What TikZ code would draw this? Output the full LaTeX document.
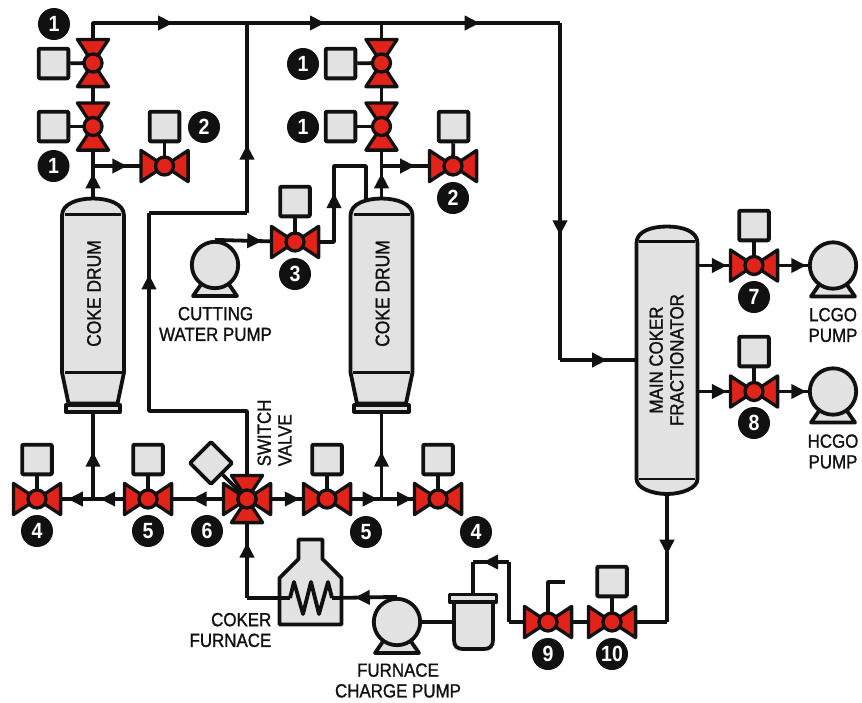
\documentclass[tikz,border=0pt]{standalone}
\usepackage{fontspec}
\setmainfont[FakeStretch=0.89]{Liberation Sans}
\newfontfamily\labelfont[FakeStretch=0.89,FakeBold=1.2]{Liberation Sans}
\usetikzlibrary{arrows.meta,decorations.markings}

\definecolor{valvered}{HTML}{E2231A}
\definecolor{shellgray}{HTML}{E2E2E2}
\definecolor{inkblack}{HTML}{111111}

\tikzset{
    pipe/.style={draw=inkblack, line width=3.8pt, line join=round},
    flow/.style={postaction={decorate}, decoration={markings,
        mark=at position #1 with {\arrow{Triangle[length=15pt,width=14pt,inkblack]}}}},
    shell/.style={draw=inkblack, fill=shellgray, line width=3.8pt, line join=round},
    thinline/.style={draw=inkblack, line width=2.2pt},
    redpart/.style={draw=inkblack, fill=valvered, line width=3.3pt, line join=round},
    actuator/.style={shell, rectangle, rounded corners=1pt, minimum size=29.7pt, inner sep=0pt},
    badge/.style={circle, fill=inkblack, text=white, minimum size=32pt, inner sep=0pt,
        font=\fontsize{22}{22}\selectfont\bfseries},
    pumpbody/.style={shell, circle, minimum size=46.4pt, inner sep=0pt},
    caption/.style={text=inkblack, inner sep=0pt, align=center, font=\labelfont\fontsize{19}{20.7}\selectfont},
    drumtext/.style={text=inkblack, inner sep=0pt, rotate=90, font=\labelfont\fontsize{19.6}{20}\selectfont},
    valve/.pic={
        \path[redpart] (-23.6,-15.6) -- (-23.6,15.6) -- (0,0) -- cycle;
        \path[redpart] (23.6,-15.6) -- (23.6,15.6) -- (0,0) -- cycle;
        \path[redpart] (0,0) circle[radius=9];
    },
    pumpbase/.pic={
        \path[shell] (-22,31) -- (22,31) -- (13,18) -- (-13,18) -- cycle;
    },
    cokedrum/.pic={
        \path[shell] (-31,17) .. controls (-31,5) and (-15,0) .. (0,0)
            .. controls (15,0) and (31,5) .. (31,17) -- (31,174) -- (24.5,205)
            -- (-24.5,205) -- (-31,174) -- cycle;
        \path[thinline] (-28,16) -- (28,16);
        \path[thinline] (-28.5,174) -- (28.5,174);
        \path[shell] (-27.3,206.7) rectangle (27.3,213.4);
    }
}

\begin{document}
\begin{tikzpicture}[x=1pt, y=-1pt]
    \useasboundingbox (0,0) rectangle (862,702);

    % valve centres
    \coordinate (vdrumAone) at (93,63);
    \coordinate (vdrumAtwo) at (93,126.5);
    \coordinate (vdrumAout) at (164.5,166);
    \coordinate (vdrumBone) at (381.5,63);
    \coordinate (vdrumBtwo) at (381.5,126.5);
    \coordinate (vdrumBout) at (453,166);
    \coordinate (vcutting) at (295,242);
    \coordinate (vbottomAo) at (37,499);
    \coordinate (vbottomAi) at (148,499);
    \coordinate (vswitch) at (247,499);
    \coordinate (vbottomBi) at (327,499);
    \coordinate (vbottomBo) at (438,499);
    \coordinate (vlcgo) at (754,265.5);
    \coordinate (vhcgo) at (754,391.5);
    \coordinate (vnine) at (548,622);
    \coordinate (vten) at (612,622);

    % pipe corners and tees
    \coordinate (topA) at (93,23);
    \coordinate (topT) at (247,23);
    \coordinate (topB) at (381.5,23);
    \coordinate (topC) at (560,23);
    \coordinate (fracin) at (560,360);
    \coordinate (fracend) at (636,360);
    \coordinate (drumAtop) at (93,198);
    \coordinate (drumAtee) at (93,166);
    \coordinate (drumAbot) at (93,413);
    \coordinate (drumArow) at (93,499);
    \coordinate (drumBtop) at (381.5,198);
    \coordinate (drumBtee) at (381.5,166);
    \coordinate (drumBbot) at (381.5,413);
    \coordinate (drumBrow) at (381.5,499);
    \coordinate (fracout) at (667,495);
    \coordinate (fraccorner) at (667,622);
    \coordinate (vesselin) at (473,594);
    \coordinate (vesselside) at (454,622);
    \coordinate (coilright) at (332,598);
    \coordinate (coilleft) at (290,598);
    \coordinate (furnaceleft) at (247,598);

    % coke drums and fractionator
    \pic at (93,198.5) {cokedrum};
    \pic at (381.5,198.5) {cokedrum};
    \path[shell] (636.5,243) .. controls (636.5,231) and (652,226.5) .. (667,226.5)
        .. controls (682,226.5) and (697.5,231) .. (697.5,243) -- (697.5,479)
        .. controls (697.5,488) and (682,494) .. (667,494)
        .. controls (652,494) and (636.5,488) .. (636.5,479) -- cycle;
    \path[thinline] (639,241.5) -- (695,241.5);
    \path[thinline] (639,479) -- (695,479);
    \node[drumtext] (textdrumA) at (94,293.5) {COKE DRUM};
    \node[drumtext] (textdrumB) at (382.5,293.5) {COKE DRUM};
    \node[caption, rotate=90] (textfrac) at (666.5,360) {MAIN COKER\\FRACTIONATOR};

    % furnace and feed vessel
    \path[shell] (279.5,624.5) -- (341.5,624.5) -- (341.5,578) -- (322.5,559) -- (322.5,539.5)
        -- (298.5,539.5) -- (298.5,559) -- (279.5,578) -- cycle;
    \path[shell] (454,602) -- (454,640) .. controls (454,646) and (457,649) .. (463,649)
        -- (484,649) .. controls (490,649) and (493,646) .. (493,640) -- (493,602) -- cycle;
    \path[shell] (449.5,594.5) rectangle (496.5,602);

    % pumps
    \pic at (215,265) {pumpbase};
    \pic at (833,265.5) {pumpbase};
    \pic at (833,391.5) {pumpbase};
    \pic at (397,622) {pumpbase};
    \node[pumpbody] (pumpcut) at (215,265) {};
    \node[pumpbody] (pumplcgo) at (833,265.5) {};
    \node[pumpbody] (pumphcgo) at (833,391.5) {};
    \node[pumpbody] (pumpfeed) at (397,622) {};

    % actuators
    \node[actuator] (boxdrumAone) at (53.5,63.5) {};
    \node[actuator] (boxdrumAtwo) at (53.5,126.5) {};
    \node[actuator] (boxdrumAout) at (164.5,126.5) {};
    \node[actuator] (boxdrumBone) at (340.5,63.5) {};
    \node[actuator] (boxdrumBtwo) at (340.5,126.5) {};
    \node[actuator] (boxdrumBout) at (453.5,126.5) {};
    \node[actuator] (boxcutting) at (295,201.5) {};
    \node[actuator] (boxbottomAo) at (37,459.5) {};
    \node[actuator] (boxbottomAi) at (148,459.5) {};
    \node[actuator, rotate=45] (boxswitch) at (211,463) {};
    \node[actuator] (boxbottomBi) at (327,459.5) {};
    \node[actuator] (boxbottomBo) at (438,459.5) {};
    \node[actuator] (boxlcgo) at (754,225.5) {};
    \node[actuator] (boxhcgo) at (754,351.5) {};
    \node[actuator] (boxten) at (612,581.5) {};

    % actuator stems
    \draw[pipe] (vdrumAone) -- (boxdrumAone);
    \draw[pipe] (vdrumAtwo) -- (boxdrumAtwo);
    \draw[pipe] (vdrumAout) -- (boxdrumAout);
    \draw[pipe] (vdrumBone) -- (boxdrumBone);
    \draw[pipe] (vdrumBtwo) -- (boxdrumBtwo);
    \draw[pipe] (vdrumBout) -- (boxdrumBout);
    \draw[pipe] (vcutting) -- (boxcutting);
    \draw[pipe] (vbottomAo) -- (boxbottomAo);
    \draw[pipe] (vbottomAi) -- (boxbottomAi);
    \draw[pipe] (vswitch) -- (boxswitch);
    \draw[pipe] (vbottomBi) -- (boxbottomBi);
    \draw[pipe] (vbottomBo) -- (boxbottomBo);
    \draw[pipe] (vlcgo) -- (boxlcgo);
    \draw[pipe] (vhcgo) -- (boxhcgo);
    \draw[pipe] (vten) -- (boxten);
    \draw[pipe] (vnine) -- (548,582) -- (565,582);

    % overhead lines
    \draw[pipe] (drumAtee) -- (vdrumAtwo) -- (vdrumAone) -- (topA) -- (topT);
    \draw[pipe, flow=.52] (topA) -- (topT);
    \draw[pipe, flow=.58] (topT) -- (topB);
    \draw[pipe, flow=.55] (topB) -- (topC);
    \draw[pipe, flow=.63] (topC) -- (fracin);
    \draw[pipe, flow=.62] (fracin) -- (fracend);
    \draw[pipe] (drumBtee) -- (vdrumBtwo) -- (vdrumBone) -- (topB);
    \draw[pipe, flow=.77] (drumAtop) -- (drumAtee);
    \draw[pipe, flow=.77] (drumBtop) -- (drumBtee);
    \draw[pipe, flow=.48] (drumAtee) -- (vdrumAout);
    \draw[pipe, flow=.47] (drumBtee) -- (vdrumBout);

    % cutting water line
    \draw[pipe, flow=.59] (pumpcut.north) -- (vcutting);
    \draw[pipe, flow=.486] (vcutting) -- (334,242) -- (334,166) -- (366,166) -- (366,200);

    % switch valve lines
    \draw[pipe] (vswitch) -- (247,411) -- (149,411) -- (149,275);
    \draw[pipe, flow=.69] (149,411) -- (149,213);
    \draw[pipe] (149,213) -- (247,213);
    \draw[pipe, flow=.36] (247,213) -- (topT);
    \draw[pipe, flow=.56] (vswitch) -- (vbottomAi);
    \draw[pipe, flow=.87] (vbottomAi) -- (drumArow);
    \draw[pipe, flow=.45] (drumArow) -- (vbottomAo);
    \draw[pipe, flow=.55] (drumArow) -- (drumAbot);
    \draw[pipe, flow=.66] (vswitch) -- (vbottomBi);
    \draw[pipe, flow=.93] (vbottomBi) -- (drumBrow);
    \draw[pipe, flow=.54] (drumBrow) -- (vbottomBo);
    \draw[pipe, flow=.55] (drumBrow) -- (drumBbot);

    % product lines
    \draw[pipe, flow=.52] (697.5,265.5) -- (vlcgo);
    \draw[pipe, flow=.97] (vlcgo) -- (pumplcgo.west);
    \draw[pipe, flow=.52] (697.5,391.5) -- (vhcgo);
    \draw[pipe, flow=.97] (vhcgo) -- (pumphcgo.west);

    % bottoms and furnace lines
    \draw[pipe, flow=.47] (fracout) -- (fraccorner);
    \draw[pipe] (fraccorner) -- (vten) -- (vnine) -- (509,622);
    \draw[pipe] (509,622) -- (509,562);
    \draw[pipe, flow=.72] (509,562) -- (473,562);
    \draw[pipe] (473,562) -- (vesselin);
    \draw[pipe] (vesselside) -- (pumpfeed.east);
    \draw[pipe, flow=.65] (pumpfeed.north) -- (coilright);
    \draw[pipe] (coilright) -- (328,582) -- (319,614) -- (311,582) -- (303,614) -- (294,582) -- (coilleft);
    \draw[pipe] (coilleft) -- (furnaceleft);
    \draw[pipe, flow=.56] (furnaceleft) -- (vswitch);

    % valves
    \pic[rotate=90] at (vdrumAone) {valve};
    \pic[rotate=90] at (vdrumAtwo) {valve};
    \pic at (vdrumAout) {valve};
    \pic[rotate=90] at (vdrumBone) {valve};
    \pic[rotate=90] at (vdrumBtwo) {valve};
    \pic at (vdrumBout) {valve};
    \pic at (vcutting) {valve};
    \pic at (vbottomAo) {valve};
    \pic at (vbottomAi) {valve};
    \pic at (vswitch) {valve};
    \pic[rotate=90] at (vswitch) {valve};
    \pic at (vbottomBi) {valve};
    \pic at (vbottomBo) {valve};
    \pic at (vlcgo) {valve};
    \pic at (vhcgo) {valve};
    \pic at (vnine) {valve};
    \pic at (vten) {valve};

    % numbered badges
    \node[badge] (badgeAa) at (54,24) {1};
    \node[badge] (badgeAb) at (53.5,166) {1};
    \node[badge] (badgeAc) at (204,127) {2};
    \node[badge] (badgeBa) at (303,64) {1};
    \node[badge] (badgeBb) at (303,127) {1};
    \node[badge] (badgeBc) at (453,198) {2};
    \node[badge] (badgecut) at (295,274) {3};
    \node[badge] (badgeAo) at (37,531) {4};
    \node[badge] (badgeAi) at (148,531) {5};
    \node[badge] (badgesw) at (207,531) {6};
    \node[badge] (badgeBi) at (366,532) {5};
    \node[badge] (badgeBo) at (476,532) {4};
    \node[badge] (badgelcgo) at (754,297) {7};
    \node[badge] (badgehcgo) at (754,423) {8};
    \node[badge] (badgenine) at (548,654) {9};
    \node[badge] (badgeten) at (612,654) {10};

    % captions
    \node[caption] (textcut) at (215.5,324) {CUTTING\\WATER PUMP};
    \node[caption] (textlcgo) at (833,325) {LCGO\\PUMP};
    \node[caption] (texthcgo) at (833,451.5) {HCGO\\PUMP};
    \node[caption] (textfeed) at (398,680.5) {FURNACE\\CHARGE PUMP};
    \node[caption, align=right, anchor=east] (textfurn) at (271.5,630) {COKER\\FURNACE};
    \node[caption, align=left, rotate=90, anchor=west] (textsw) at (274.5,466.5) {SWITCH\\VALVE};
\end{tikzpicture}
\end{document}
